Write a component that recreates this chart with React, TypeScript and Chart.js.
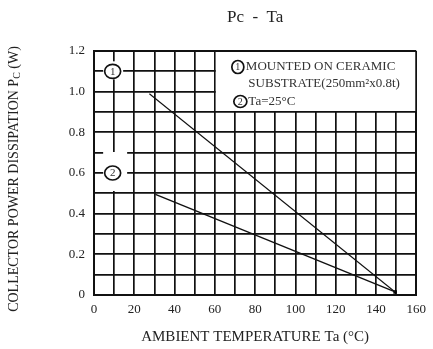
import React, { useEffect, useRef } from "react";
import { Chart, registerables } from "chart.js";

Chart.register(...registerables);

// ---- data ----
const curve1X = [27.5, 149.5];
const curve1Y = [0.99, 0.015];
const curve2X = [30.5, 149.5];
const curve2Y = [0.495, 0.015];
const endPointX = [149.5];
const endPointY = [0.015];

const xMin = 0;
const xMax = 160;
const xStep = 10;
const xLabelEvery = 20;
const yMin = 0;
const yMax = 1.2;
const yStep = 0.1;

const titleText = "Pc  -  Ta";
const xTitle = "AMBIENT TEMPERATURE Ta (\u00B0C)";
const yTitleMain = "COLLECTOR POWER DISSIPATION P";
const yTitleSub = "C";
const yTitleEnd = " (W)";
const legendLines = ["MOUNTED ON CERAMIC", "SUBSTRATE(250mm\u00B2x0.8t)", "Ta=25\u00B0C"];
const curveLabels = ["1", "2"];
const curveLabelX = [10, 10];
const curveLabelY = [1.1, 0.6];

const FONT = "'Liberation Serif', 'Times New Roman', serif";

function drawCircled(ctx: CanvasRenderingContext2D, cx: number, cy: number, rx: number, ry: number, txt: string, size: number) {
  ctx.save();
  ctx.beginPath();
  ctx.ellipse(cx, cy, rx, ry, 0, 0, Math.PI * 2);
  ctx.lineWidth = 1.7;
  ctx.strokeStyle = "#111";
  ctx.stroke();
  ctx.fillStyle = "#333";
  ctx.font = `${size}px ${FONT}`;
  ctx.textAlign = "center";
  ctx.textBaseline = "middle";
  ctx.fillText(txt, cx, cy + 0.5);
  ctx.restore();
}

const overlayPlugin = {
  id: "overlay",
  beforeDatasetsDraw(chart: any) {
    const ctx: CanvasRenderingContext2D = chart.ctx;
    const xs = chart.scales.x;
    const ys = chart.scales.y;
    ctx.save();
    ctx.fillStyle = "#fff";
    // legend box (white region over the grid)
    const lx0 = xs.getPixelForValue(60) + 1;
    const lx1 = xs.getPixelForValue(160) - 1;
    const ly0 = ys.getPixelForValue(1.2) + 1;
    const ly1 = ys.getPixelForValue(0.9) - 1;
    ctx.fillRect(lx0, ly0, lx1 - lx0, ly1 - ly0);

    // gaps around the curve labels
    const gaps = [
      [-11, 9, -10, 8],
      [-11, 13, -21, 18],
    ];
    curveLabels.forEach((lab, i) => {
      const cx = xs.getPixelForValue(curveLabelX[i]);
      const cy = ys.getPixelForValue(curveLabelY[i]);
      const g = gaps[i];
      ctx.fillStyle = "#fff";
      ctx.fillRect(cx + g[0], cy + g[2], g[1] - g[0], g[3] - g[2]);
      drawCircled(ctx, cx - 1.5, cy, 8, 7, lab, 11);
    });

    // legend text
    const bx = xs.getPixelForValue(60);
    const by = ys.getPixelForValue(1.2);
    drawCircled(ctx, bx + 23, by + 16, 6, 6.5, "1", 10);
    ctx.fillStyle = "#333";
    ctx.font = `13px ${FONT}`;
    ctx.textAlign = "left";
    ctx.textBaseline = "middle";
    ctx.fillText(legendLines[0], bx + 31, by + 15.5);
    ctx.fillText(legendLines[1], bx + 33.5, by + 33);
    drawCircled(ctx, bx + 25.5, by + 50.5, 6.5, 6, "2", 10);
    ctx.fillStyle = "#333";
    ctx.font = `13px ${FONT}`;
    ctx.textAlign = "left";
    ctx.textBaseline = "middle";
    ctx.fillText(legendLines[2], bx + 33.5, by + 50.5);
    ctx.restore();
  },
  afterDraw(chart: any) {
    const ctx: CanvasRenderingContext2D = chart.ctx;
    const area = chart.chartArea;
    const midX = (area.left + area.right) / 2;
    ctx.save();
    ctx.fillStyle = "#222";
    ctx.textAlign = "center";
    ctx.textBaseline = "middle";
    ctx.font = `17px ${FONT}`;
    ctx.fillText(titleText, midX, 18);
    ctx.font = `15px ${FONT}`;
    ctx.fillText(xTitle, midX, 337);

    // y title with subscript
    ctx.font = `14px ${FONT}`;
    const w1 = ctx.measureText(yTitleMain).width;
    const w3 = ctx.measureText(yTitleEnd).width;
    ctx.font = `10px ${FONT}`;
    const w2 = ctx.measureText(yTitleSub).width;
    const total = w1 + w2 + w3;
    ctx.translate(14, 179);
    ctx.rotate(-Math.PI / 2);
    ctx.textAlign = "left";
    let x = -total / 2;
    ctx.font = `14px ${FONT}`;
    ctx.fillText(yTitleMain, x, 0);
    x += w1;
    ctx.font = `10px ${FONT}`;
    ctx.fillText(yTitleSub, x, 3);
    x += w2;
    ctx.font = `14px ${FONT}`;
    ctx.fillText(yTitleEnd, x, 0);
    ctx.restore();
  },
};

export default function App() {
  const ref = useRef<HTMLCanvasElement | null>(null);
  useEffect(() => {
    document.body.style.margin = "0";
    const canvas = ref.current;
    if (!canvas) return;
    const toPts = (xs: number[], ys: number[]) => xs.map((x, i) => ({ x, y: ys[i] }));
    const edgeX = (c: any) => (c.tick && (c.tick.value === xMin || c.tick.value === xMax) ? 2 : 1.7);
    const edgeY = (c: any) => (c.tick && (Math.abs(c.tick.value - yMin) < 1e-6 || Math.abs(c.tick.value - yMax) < 1e-6) ? 2 : 1.7);
    const chart = new Chart(canvas, {
      type: "scatter",
      data: {
        datasets: [
          { data: toPts(curve1X, curve1Y), showLine: true, borderColor: "#111", borderWidth: 1.1, pointRadius: 0 },
          { data: toPts(curve2X, curve2Y), showLine: true, borderColor: "#111", borderWidth: 1.4, pointRadius: 0 },
          { data: toPts(endPointX, endPointY), showLine: false, pointStyle: "rect", pointRadius: 2.5, backgroundColor: "#000", borderColor: "#000", borderWidth: 0 },
        ],
      },
      options: {
        animation: false,
        responsive: false,
        maintainAspectRatio: false,
        events: [],
        layout: { padding: { top: 51, right: 12, left: 0, bottom: 0 } },
        plugins: { legend: { display: false }, title: { display: false }, tooltip: { enabled: false } },
        scales: {
          x: {
            type: "linear",
            min: xMin,
            max: xMax,
            afterFit: (s: any) => { s.height = 54; },
            grid: { color: "#111", lineWidth: edgeX, drawTicks: false },
            border: { display: true, color: "#111", width: 2 },
            ticks: {
              stepSize: xStep,
              autoSkip: false,
              maxRotation: 0,
              padding: 7,
              color: "#222",
              font: { family: FONT, size: 13 },
              callback: (v: any) => (Math.round(v) % xLabelEvery === 0 ? String(Math.round(v)) : ""),
            },
          },
          y: {
            type: "linear",
            min: yMin,
            max: yMax,
            afterFit: (s: any) => { s.width = 94; },
            grid: { color: "#111", lineWidth: edgeY, drawTicks: false },
            border: { display: true, color: "#111", width: 2 },
            ticks: {
              stepSize: yStep,
              autoSkip: false,
              padding: 9,
              color: "#222",
              font: { family: FONT, size: 13 },
              callback: (v: any) => {
                const t = Math.round(v * 10);
                if (t % 2 !== 0) return "";
                return t === 0 ? "0" : (t / 10).toFixed(1);
              },
            },
          },
        },
      },
      plugins: [overlayPlugin],
    } as any);
    return () => chart.destroy();
  }, []);
  return (
    <div style={{ width: 433, height: 349 }}>
      <canvas ref={ref} width={433} height={349} style={{ width: 433, height: 349, display: "block" }} />
    </div>
  );
}
